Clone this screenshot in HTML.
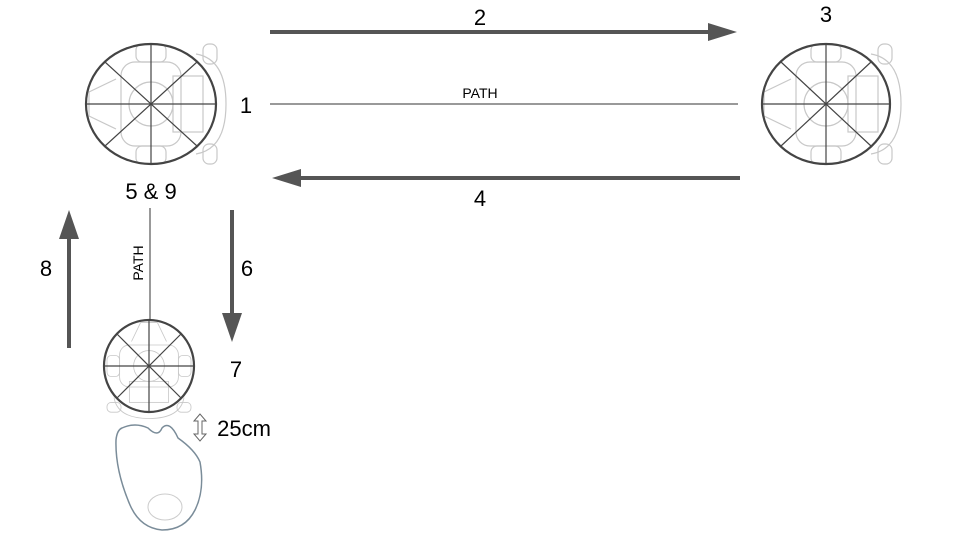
<!DOCTYPE html>
<html><head><meta charset="utf-8"><style>
html,body{margin:0;padding:0;background:#fff;}
svg{display:block;font-family:"Liberation Sans",sans-serif;}
</style></head><body>
<svg width="960" height="540" viewBox="0 0 960 540">
<defs>
<g id="robot" fill="none" stroke="#c8c8c8" stroke-width="1.2">
  <rect x="-15" y="-60" width="30" height="18" rx="6"/>
  <rect x="-15" y="42" width="30" height="18" rx="6"/>
  <rect x="-30" y="-42" width="60" height="84" rx="14"/>
  <circle cx="0" cy="0" r="22"/>
  <rect x="22" y="-28" width="30" height="56"/>
  <path d="M45 -50 Q75 -45 75 0 Q75 45 45 50"/>
  <path d="M-35 -25 L-62 -12 L-62 12 L-35 25"/>
  <rect x="52" y="-60" width="14" height="20" rx="6"/>
  <rect x="52" y="40" width="14" height="20" rx="6"/>
</g>
<g id="wheel-marks" fill="none" stroke="#444" stroke-width="1.2"></g>
</defs>

<!-- Robot 1 -->
<g>
  <use href="#robot" x="151" y="104"/>
  <ellipse cx="151" cy="104" rx="65" ry="60" fill="none" stroke="#444" stroke-width="2.2"/>
  <line x1="86" y1="104" x2="216" y2="104" stroke="#444" stroke-width="1.2"/>
  <line x1="151" y1="44" x2="151" y2="164" stroke="#444" stroke-width="1.2"/>
  <line x1="105" y1="62" x2="197" y2="146" stroke="#444" stroke-width="1.2"/>
  <line x1="197" y1="62" x2="105" y2="146" stroke="#444" stroke-width="1.2"/>
</g>

<!-- Robot 3 -->
<g>
  <use href="#robot" x="826" y="104"/>
  <ellipse cx="826" cy="104" rx="64" ry="60" fill="none" stroke="#444" stroke-width="2.2"/>
  <line x1="762" y1="104" x2="890" y2="104" stroke="#444" stroke-width="1.2"/>
  <line x1="826" y1="44" x2="826" y2="164" stroke="#444" stroke-width="1.2"/>
  <line x1="781" y1="62" x2="871" y2="146" stroke="#444" stroke-width="1.2"/>
  <line x1="871" y1="62" x2="781" y2="146" stroke="#444" stroke-width="1.2"/>
</g>

<!-- Robot 7 -->
<g>
  <g transform="translate(149,366) rotate(90) scale(0.7)"><use href="#robot"/></g>
  <ellipse cx="149" cy="366" rx="45" ry="46" fill="none" stroke="#444" stroke-width="2.2"/>
  <line x1="104" y1="366" x2="194" y2="366" stroke="#444" stroke-width="1.2"/>
  <line x1="149" y1="320" x2="149" y2="412" stroke="#444" stroke-width="1.2"/>
  <line x1="117" y1="334" x2="181" y2="398" stroke="#444" stroke-width="1.2"/>
  <line x1="181" y1="334" x2="117" y2="398" stroke="#444" stroke-width="1.2"/>
</g>

<!-- Dock -->
<path d="M122 428 Q135 422 148 428 Q158 438 162 428 Q170 420 178 438 Q195 450 200 462 Q205 490 195 510 Q185 530 162 530 Q140 528 130 505 Q115 470 116 440 Q117 430 122 428 Z" fill="#fff" stroke="#7a8c99" stroke-width="1.5"/>
<ellipse cx="165" cy="507" rx="17" ry="13" fill="none" stroke="#ccc" stroke-width="1"/>

<!-- Paths -->
<line x1="270" y1="104" x2="738" y2="104" stroke="#333" stroke-width="1"/>
<text x="480" y="98" font-size="14" text-anchor="middle" fill="#000">PATH</text>
<line x1="150" y1="208" x2="150" y2="320" stroke="#333" stroke-width="1"/>
<text transform="translate(143,263) rotate(-90)" font-size="14" text-anchor="middle" fill="#000">PATH</text>

<!-- Arrows -->
<g fill="#555" stroke="none">
  <g><rect x="270" y="30" width="440" height="4"/><polygon points="708,23 737,32 708,41"/></g>
  <g><rect x="300" y="176" width="440" height="4"/><polygon points="301,169 272,178 301,187"/></g>
  <g><rect x="230" y="210" width="4" height="105"/><polygon points="222,313 232,342 242,313"/></g>
  <g><rect x="67" y="238" width="4" height="110"/><polygon points="59,239 69,210 79,239"/></g>
</g>

<!-- Distance marker -->
<g fill="#fff" stroke="#666" stroke-width="1">
  <path d="M200 414 L194 421 L198 421 L198 434 L194 434 L200 441 L206 434 L202 434 L202 421 L206 421 Z"/>
</g>

<!-- Labels -->
<g font-size="22" fill="#000" text-anchor="middle">
  <text x="246" y="113">1</text>
  <text x="480" y="25">2</text>
  <text x="826" y="22">3</text>
  <text x="480" y="206">4</text>
  <text x="151" y="199">5 &amp; 9</text>
  <text x="247" y="276">6</text>
  <text x="236" y="377">7</text>
  <text x="46" y="276">8</text>
  <text x="244" y="436">25cm</text>
</g>
</svg>
</body></html>
